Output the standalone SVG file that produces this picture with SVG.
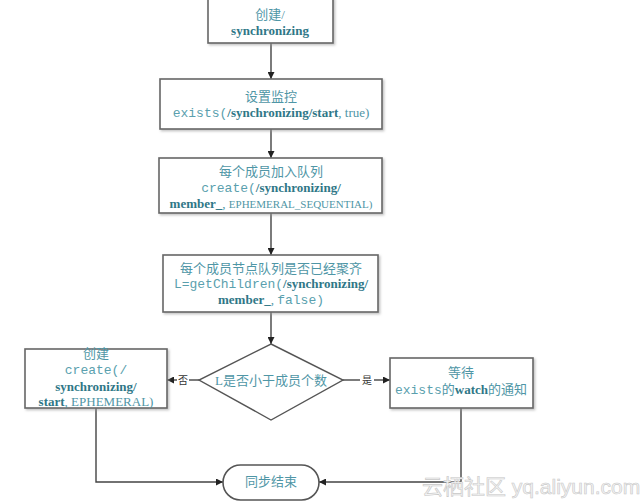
<svg xmlns="http://www.w3.org/2000/svg" width="643" height="502" viewBox="0 0 643 502">
<defs>
<marker id="ah" viewBox="0 0 10 10" refX="10" refY="5" markerWidth="7" markerHeight="7" orient="auto" markerUnits="userSpaceOnUse">
<path d="M0,0 L10,5 L0,10 z" fill="#222"/>
</marker>
<filter id="sh" x="-5%" y="-5%" width="115%" height="125%">
<feDropShadow dx="1.5" dy="1.5" stdDeviation="0.8" flood-color="#999" flood-opacity="0.6"/>
</filter>
</defs>
<style>
.box{fill:#fff;stroke:#666;stroke-width:1.6;filter:url(#sh)}
.ln{fill:none;stroke:#444;stroke-width:1.4}
.t{font-family:"Liberation Serif","Noto Sans CJK SC",serif;font-size:13px;fill:#4f96a6;text-anchor:middle}
.b{font-family:"Liberation Serif","Noto Sans CJK SC",serif;font-weight:bold;fill:#2f7787}
.m{font-family:"Liberation Mono","Noto Sans CJK SC",monospace;fill:#5a9fae}
.s{font-family:"Liberation Serif",serif;fill:#4f96a6}
.lbl{font-family:"Liberation Serif","Noto Sans CJK SC",serif;font-size:10px;fill:#333;text-anchor:middle}
.wm{font-family:"Liberation Sans","Noto Sans CJK SC",sans-serif;font-size:21px;fill:#f4f4f4;stroke:#c8c8c8;stroke-width:0.6}
</style>
<rect width="643" height="502" fill="#fff"/>

<g id="connectors">
<line class="ln" x1="271" y1="43" x2="271" y2="79" marker-end="url(#ah)"/>
<line class="ln" x1="271" y1="129" x2="271" y2="158" marker-end="url(#ah)"/>
<line class="ln" x1="271" y1="213" x2="271" y2="255" marker-end="url(#ah)"/>
<line class="ln" x1="271" y1="312" x2="271" y2="344" marker-end="url(#ah)"/>
<line class="ln" x1="199" y1="380" x2="189" y2="380"/>
<line class="ln" x1="177" y1="380" x2="167" y2="380" marker-end="url(#ah)"/>
<text class="lbl" x="183" y="383.5">否</text>
<line class="ln" x1="343" y1="380" x2="360" y2="380"/>
<line class="ln" x1="374" y1="380" x2="390" y2="380" marker-end="url(#ah)"/>
<text class="lbl" x="367" y="383.5">是</text>
<polyline class="ln" points="96,408 96,482 223,482" marker-end="url(#ah)"/>
<polyline class="ln" points="461,408 461,482 319,482" marker-end="url(#ah)"/>
</g>

<g id="n1">
<rect class="box" x="208" y="-2" width="125" height="45"/>
<text class="t" x="270" y="19">创建/</text>
<text class="t" x="270" y="35"><tspan class="b">synchronizing</tspan></text>
</g>

<g id="n2">
<rect class="box" x="160" y="79" width="222" height="50"/>
<text class="t" x="271" y="101">设置监控</text>
<text class="t" x="271" y="117" font-size="12"><tspan class="m">exists(</tspan><tspan class="b">/synchronizing/start</tspan><tspan class="s">, true)</tspan></text>
</g>

<g id="n3">
<rect class="box" x="159" y="158" width="223" height="55"/>
<text class="t" x="271" y="176">每个成员加入队列</text>
<text class="t" x="271" y="192" font-size="12"><tspan class="m">create(</tspan><tspan class="b">/synchronizing/</tspan></text>
<text class="t" x="271" y="208" font-size="12"><tspan class="b">member_</tspan><tspan class="s">, </tspan><tspan class="s" font-size="11">EPHEMERAL_SEQUENTIAL)</tspan></text>
</g>

<g id="n4">
<rect class="box" x="163" y="255" width="215" height="57"/>
<text class="t" x="271" y="273">每个成员节点队列是否已经聚齐</text>
<text class="t" x="271" y="288" font-size="12"><tspan class="m">L=getChildren(</tspan><tspan class="b">/synchronizing/</tspan></text>
<text class="t" x="271" y="304" font-size="12"><tspan class="b">member_</tspan><tspan class="s">, </tspan><tspan class="m">false)</tspan></text>
</g>

<g id="n5">
<polygon points="271,344 343,380 271,420 199,380" fill="#fff" stroke="#555" stroke-width="1.4"/>
<text class="t" x="271" y="385">L是否小于成员个数</text>
</g>

<g id="n6">
<rect class="box" x="25" y="349" width="142" height="59"/>
<text class="t" x="96" y="358">创建</text>
<text class="t" x="96" y="374" font-size="12"><tspan class="m">create(/</tspan></text>
<text class="t" x="96" y="391" font-size="12"><tspan class="b">synchronizing/</tspan></text>
<text class="t" x="96" y="406" font-size="12"><tspan class="b">start</tspan><tspan class="s">, EPHEMERAL)</tspan></text>
</g>

<g id="n7">
<rect class="box" x="390" y="358" width="143" height="50"/>
<text class="t" x="461" y="377">等待</text>
<text class="t" x="461" y="394" font-size="12"><tspan class="m">exists</tspan><tspan>的</tspan><tspan class="b">watch</tspan><tspan>的通知</tspan></text>
</g>

<g id="n8">
<rect x="223" y="465" width="96" height="35" rx="17.5" fill="#fff" stroke="#555" stroke-width="1.6"/>
<text class="t" x="271" y="486" font-size="11">同步结束</text>
</g>

<text class="wm" x="422" y="494">云栖社区 yq.aliyun.com</text>
</svg>
